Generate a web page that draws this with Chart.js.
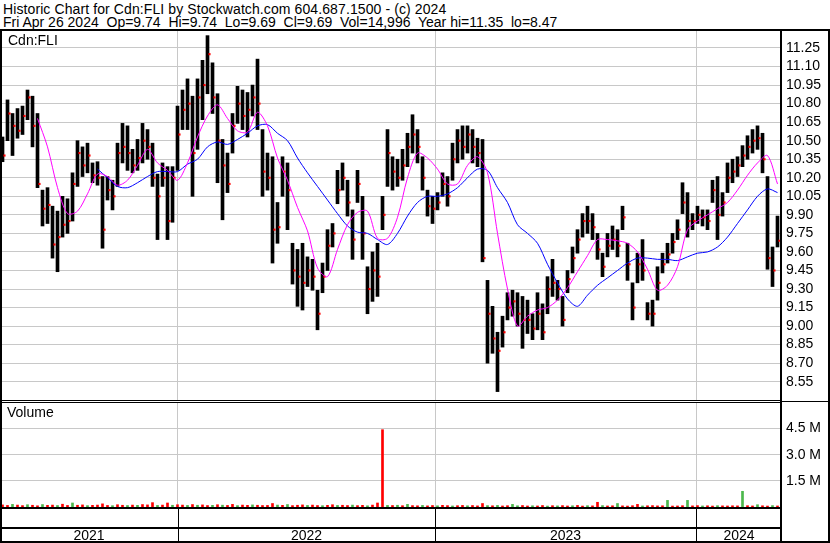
<!DOCTYPE html>
<html>
<head>
<meta charset="utf-8">
<script src="https://cdn.jsdelivr.net/npm/chart.js@4.4.1/dist/chart.umd.min.js"></script>
<style>
  body { margin: 0; background: #fff; }
  #wrap { position: relative; width: 830px; height: 543px; overflow: hidden; font-family: "Liberation Sans", Arial, sans-serif; }
  .t { position: absolute; white-space: pre; color: #000; font-size: 14px; line-height: 14px; }
  .ln { position: absolute; background: #000; }
  canvas { position: absolute; left: 0; }
</style>
</head>
<body>
<div id="wrap">
  <div class="t" style="left:3px;top:2px;letter-spacing:0.1px">Historic Chart for Cdn:FLI by Stockwatch.com 604.687.1500 - (c) 2024</div>
  <div class="t" style="left:3px;top:15px">Fri Apr 26 2024  Op=9.74  Hi=9.74  Lo=9.69  Cl=9.69  Vol=14,996  Year hi=11.35  lo=8.47</div>
  <canvas id="price" width="830" height="369" style="top:31px"></canvas>
  <canvas id="vol" width="830" height="104" style="top:403px"></canvas>
  <div class="t" style="left:8px;top:33px">Cdn:FLI</div>
  <div class="t" style="left:7px;top:405px">Volume</div>
</div>
<script>
// Шкалы и подписи
const priceTicks = [8.55, 8.70, 8.85, 9.00, 9.15, 9.30, 9.45, 9.60, 9.75, 9.90, 10.05, 10.20, 10.35, 10.50, 10.65, 10.80, 10.95, 11.10, 11.25];
const volTicks = [1500, 3000, 4500]; // тыс. акций
const years = ['2021', '2022', '2023', '2024'];
const yearBreaks = [35.0, 86.5, 138.7]; // неделя начала года

// Недельные бары (апр 2021 - апр 2024)
const hi = [
  10.53,10.83,10.72,10.76,10.78,10.91,10.86,10.72,10.10,10.12,
  9.97,9.93,10.05,10.03,10.24,10.50,10.45,10.48,10.32,10.33,
  10.21,10.21,10.18,10.48,10.64,10.62,10.43,10.51,10.64,10.59,
  10.48,10.23,10.32,10.29,10.29,10.78,10.91,11.00,10.86,11.00,
  11.15,11.35,11.13,10.88,10.51,10.40,10.72,10.94,10.91,10.89,
  10.95,11.16,10.59,10.40,10.37,10.00,10.37,10.32,9.67,9.62,
  9.67,9.56,9.54,9.29,9.51,9.78,9.83,10.26,10.32,10.18,
  9.94,10.26,10.05,9.48,9.60,9.67,10.05,10.59,10.37,10.35,
  10.43,10.56,10.71,10.59,10.37,10.10,10.05,10.08,10.24,10.21,
  10.48,10.59,10.62,10.62,10.59,10.52,10.51,9.37,9.16,8.95,
  9.08,9.27,9.29,9.27,9.24,9.21,9.10,9.27,9.18,9.40,
  9.54,9.37,9.24,9.45,9.64,9.78,9.91,9.97,9.91,9.75,
  9.59,9.75,9.81,9.78,9.97,9.67,9.35,9.59,9.70,9.19,
  9.21,9.48,9.59,9.67,9.75,9.86,10.16,10.08,9.91,9.97,
  9.94,9.94,10.18,10.21,10.08,10.32,10.35,10.37,10.46,10.54,
  10.59,10.62,10.56,10.21,9.64,9.89
];
const lo = [
  10.33,10.50,10.38,10.52,10.55,10.67,10.45,10.12,9.81,9.83,
  9.55,9.44,9.72,9.75,9.85,10.13,10.21,10.24,10.16,10.14,
  9.63,10.02,9.94,10.13,10.32,10.26,10.24,10.26,10.32,10.35,
  10.13,9.70,10.13,9.70,9.84,10.26,10.59,10.59,10.05,10.43,
  10.67,10.88,10.72,10.16,9.86,10.08,10.40,10.64,10.59,10.53,
  10.70,10.59,10.05,10.10,9.51,9.67,10.05,9.78,9.34,9.16,
  9.13,9.32,9.29,8.97,9.27,9.45,9.64,9.99,10.10,9.89,
  9.54,10.00,9.54,9.10,9.20,9.24,9.78,10.13,10.10,10.13,
  10.18,10.29,10.40,10.32,10.10,9.89,9.83,9.94,10.05,9.97,
  10.18,10.32,10.35,10.40,10.32,10.29,9.52,8.70,8.78,8.47,
  8.83,9.05,9.08,9.00,8.82,8.94,8.89,8.97,8.89,9.10,
  9.24,9.21,9.00,9.27,9.43,9.59,9.72,9.75,9.70,9.54,
  9.40,9.56,9.62,9.56,9.78,9.37,9.05,9.35,9.37,9.05,
  9.00,9.21,9.43,9.51,9.59,9.70,9.91,9.72,9.78,9.83,
  9.81,9.78,10.00,9.70,9.89,10.08,10.16,10.21,10.29,10.35,
  10.40,10.43,10.24,9.46,9.32,9.64
];
const cl = [
  10.38,10.72,10.62,10.58,10.70,10.85,10.62,10.15,9.95,9.98,
  9.66,9.72,9.82,9.85,10.15,10.40,10.30,10.38,10.22,10.20,
  9.78,10.10,10.05,10.40,10.45,10.40,10.30,10.36,10.50,10.45,
  10.20,10.05,10.20,9.85,10.20,10.55,10.75,10.80,10.40,10.85,
  10.95,11.20,10.85,10.50,10.30,10.15,10.62,10.80,10.70,10.75,
  10.85,10.80,10.25,10.20,9.78,9.80,10.25,10.10,9.45,9.40,
  9.35,9.45,9.40,9.10,9.40,9.65,9.75,10.10,10.20,10.00,
  9.70,10.15,9.75,9.30,9.45,9.40,9.90,10.40,10.25,10.20,
  10.30,10.45,10.55,10.45,10.20,9.97,9.95,10.00,10.15,10.05,
  10.35,10.50,10.45,10.55,10.45,10.40,9.55,9.10,8.90,8.80,
  8.95,9.15,9.20,9.10,9.05,9.05,8.98,9.10,8.95,9.30,
  9.35,9.30,9.05,9.38,9.55,9.70,9.85,9.85,9.80,9.62,
  9.48,9.65,9.70,9.65,9.88,9.50,9.15,9.50,9.45,9.10,
  9.10,9.35,9.50,9.58,9.68,9.78,10.00,9.85,9.85,9.90,
  9.88,9.85,10.10,9.90,10.00,10.20,10.25,10.30,10.38,10.45,
  10.50,10.52,10.35,9.55,9.45,9.69
];

// Скользящие средние, каждые две недели (неделя 1, 3, 5 ...)
const maPink = [
  null,null,null,10.68,10.45,10.12,9.91,9.93,10.07,10.23,
  10.21,10.14,10.18,10.30,10.43,10.32,10.26,10.18,10.32,10.53,
  10.70,10.79,10.68,10.58,10.57,10.73,10.62,10.36,10.18,9.96,
  9.77,9.47,9.40,9.62,9.82,9.92,9.93,9.71,9.71,9.88,
  10.20,10.40,10.36,10.27,10.15,10.15,10.30,10.37,10.24,9.75,
  9.30,9.00,9.08,9.13,9.15,9.21,9.31,9.44,9.57,9.70,
  9.70,9.69,9.67,9.60,9.46,9.29,9.33,9.48,9.78,9.85,
  9.90,9.95,10.00,10.10,10.22,10.32,10.38,10.15
];
const maBlue = [
  null,null,null,null,null,null,null,null,null,10.27,
  10.20,10.13,10.12,10.16,10.21,10.25,10.25,10.25,10.31,10.35,
  10.45,10.49,10.47,10.51,10.56,10.62,10.63,10.56,10.50,10.36,
  10.24,10.13,10.02,9.91,9.81,9.76,9.75,9.70,9.66,9.75,
  9.89,10.00,10.05,10.05,10.07,10.12,10.20,10.27,10.26,10.12,
  10.00,9.82,9.75,9.67,9.50,9.35,9.22,9.16,9.25,9.33,
  9.39,9.45,9.51,9.55,9.55,9.54,9.54,9.53,9.56,9.59,
  9.60,9.64,9.72,9.83,9.94,10.05,10.11,10.08
];

// Объём, тыс.; r - падение, g - рост
const vol = [
  120,90,150,110,80,130,100,70,140,95,110,85,160,90,230,100,120,80,95,110,180,90,75,130,100,85,110,95,140,120,250,90,110,230,100,130,
  110,90,140,100,120,85,95,130,105,90,150,80,110,95,120,100,85,90,200,110,95,140,80,100,120,90,110,85,75,95,130,90,100,85,110,
  80,95,70,110,230,4430,90,85,100,75,150,80,70,90,65,85,70,95,80,60,75,90,70,85,65,200,80,70,90,60,75,150,70,85,60,
  70,60,85,55,75,65,80,60,70,90,55,75,65,270,80,60,70,200,65,55,75,150,60,70,80,65,70,380,55,60,75,380,65,80,60,70,55,75,65,60,70,65,900,75,60,130,70,55,80,60
];
const volSide =
  'rrgrrgrrgr' + 'rgrrgrrgrr' + 'rrgrrgrgrr' + 'rgrrgrrgrg' + 'rrgrgrrgrr' +
  'grrrrgrgrr' + 'rgrrgrrgrr' + 'grrgrrrgrg' + 'rgrrgrrgrr' + 'grrgrrrgrg' +
  'rrggrrgrrg' + 'rgrrgrrgrr' + 'grrgrrrrgr' + 'rrrgrrrgrr' + 'grrgrrrrgr' + 'rgrrgr';

Chart.defaults.font.family = '"Liberation Sans", Arial, sans-serif';
Chart.defaults.font.size = 14;
Chart.defaults.color = '#000';

const weeks = cl.map((_, i) => i);
const maWeeks = maPink.map((_, j) => 2 * j + 1);
const gridGrey = '#c8c8c8';

function xAxis() {
  return {
    type: 'linear', min: -0.5, max: 155.5, offset: false,
    afterBuildTicks: s => { s.ticks = yearBreaks.map(v => ({ value: v })); },
    ticks: { display: false },
    grid: { color: gridGrey, drawTicks: false, offset: false },
    border: { display: false }
  };
}
function fitRight(s) { s.width = 50; s.paddingTop = 0; s.paddingBottom = 0; }

const priceChart = new Chart(document.getElementById('price'), {
  type: 'bar',
  data: {
    datasets: [
      { type: 'line', data: maWeeks.map((w, j) => ({ x: w, y: maPink[j] })), borderColor: '#ff00ff', borderWidth: 1, pointRadius: 0, tension: 0.3, order: 0 },
      { type: 'line', data: maWeeks.map((w, j) => ({ x: w, y: maBlue[j] })), borderColor: '#0000ff', borderWidth: 1, pointRadius: 0, tension: 0.3, order: 0 },
      { type: 'line', data: weeks.map(i => ({ x: i + 0.4, y: cl[i] })), showLine: false, pointStyle: 'rect', pointRadius: 1.5,
        pointBackgroundColor: '#ff0000', pointBorderWidth: 0, order: 1 },
      { type: 'bar', data: weeks.map(i => ({ x: i, y: [lo[i], hi[i]] })), backgroundColor: '#000', borderWidth: 0, barThickness: 3, order: 2 }
    ]
  },
  options: {
    responsive: false, devicePixelRatio: 1, animation: false, events: [],
    layout: { padding: 0, autoPadding: false },
    plugins: { legend: { display: false }, tooltip: { enabled: false } },
    scales: {
      x: xAxis(),
      y: {
        position: 'right', min: 8.402, max: 11.3875,
        afterBuildTicks: s => { s.ticks = priceTicks.map(v => ({ value: v })); },
        afterFit: fitRight,
        ticks: { padding: 6, autoSkip: false, callback: v => v.toFixed(2) },
        grid: { color: gridGrey, drawTicks: false },
        border: { display: false }
      }
    }
  }
});

const volChart = new Chart(document.getElementById('vol'), {
  type: 'bar',
  data: {
    datasets: [{
      data: weeks.map(i => ({ x: i, y: vol[i] })),
      backgroundColor: weeks.map(i => volSide[i] === 'g' ? '#4cb84c' : '#ff0000'),
      borderWidth: 0, barThickness: 2
    }]
  },
  options: {
    responsive: false, devicePixelRatio: 1, animation: false, events: [],
    layout: { padding: 0, autoPadding: false },
    plugins: { legend: { display: false }, tooltip: { enabled: false } },
    scales: {
      x: xAxis(),
      y: {
        position: 'right', min: 0, max: 5960,
        afterBuildTicks: s => { s.ticks = volTicks.map(v => ({ value: v })); },
        afterFit: fitRight,
        ticks: { padding: 6, autoSkip: false, callback: v => (v / 1000).toFixed(1) + ' M' },
        grid: { color: gridGrey, drawTicks: false },
        border: { display: false }
      }
    }
  }
});

// Рамки и подписи лет
const wrap = document.getElementById('wrap');
function box(cls, l, t, w, h, text) {
  const d = document.createElement('div');
  d.className = cls;
  d.style.left = l + 'px'; d.style.top = t + 'px';
  if (w != null) d.style.width = w + 'px';
  if (h != null) d.style.height = h + 'px';
  if (text) d.textContent = text;
  wrap.appendChild(d);
  return d;
}
const xs = volChart.scales.x;
const right = Math.round(xs.right);
box('ln', 0, 29, 830, 2);
box('ln', 0, 29, 2, 514);
box('ln', 828, 29, 2, 514);
box('ln', right, 29, 2, 514);
box('ln', 0, 400, right, 1);
box('ln', 0, 402, right, 1);
box('ln', right, 401, 830 - right, 1);
box('ln', 0, 507, right, 2);
box('ln', 0, 527, right, 2);
box('ln', 0, 541, 830, 2);
const edges = [0].concat(yearBreaks.map(b => Math.round(xs.getPixelForValue(b))), [right + 2]);
yearBreaks.forEach((b, i) => box('ln', edges[i + 1], 509, 1, 32));
years.forEach((y, i) => {
  const d = box('t', edges[i], 528, edges[i + 1] - edges[i], null, y);
  d.style.textAlign = 'center';
});
</script>
</body>
</html>
